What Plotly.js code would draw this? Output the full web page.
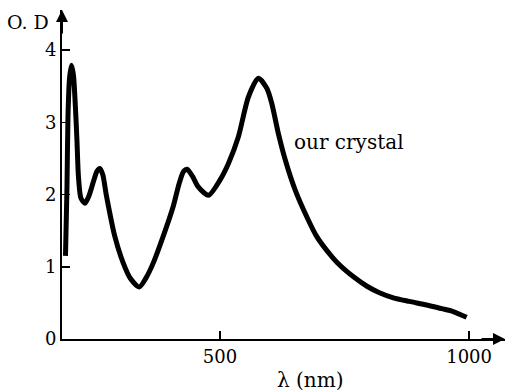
<!DOCTYPE html>
<html>
<head>
<meta charset="utf-8">
<script src="https://cdn.plot.ly/plotly-3.0.1.min.js"></script>
<style>html,body{margin:0;padding:0;background:#fff;}</style>
</head>
<body>
<div id="chart" style="width:514px;height:392px;"></div>
<script>
// Wavelength (nm) and optical density
var wavelength = [190, 193, 195, 198, 202, 206, 210, 213, 216, 221, 229, 237, 247, 253, 259, 265, 272, 289, 306, 320, 338, 352, 366, 386, 406, 418, 427, 434, 445, 456, 477, 500, 517, 537, 557, 577, 594, 604, 617, 631, 651, 677, 694, 715, 735, 770, 795, 820, 848, 880, 915, 945, 968, 995];
var opticalDensity = [1.15, 2.1, 3.08, 3.6, 3.79, 3.65, 3.2, 2.75, 2.25, 1.95, 1.88, 1.98, 2.2, 2.32, 2.36, 2.27, 1.99, 1.42, 1.05, 0.84, 0.72, 0.85, 1.05, 1.42, 1.83, 2.15, 2.32, 2.35, 2.25, 2.11, 1.99, 2.2, 2.43, 2.8, 3.35, 3.61, 3.47, 3.26, 2.85, 2.48, 2.06, 1.65, 1.42, 1.22, 1.06, 0.85, 0.73, 0.64, 0.57, 0.52, 0.47, 0.42, 0.38, 0.30];
var xTickVals = [500, 1000];
var xTickText = ["500", "1000"];
var yTickVals = [0, 1, 2, 3, 4];
var yTickText = ["0", "1", "2", "3", "4"];
var seriesLabel = "our crystal";
var yTitle = "O. D";
var xTitle = "λ (nm)";

var font = "DejaVu Serif, Liberation Serif, serif";

var trace = {
  x: wavelength,
  y: opticalDensity,
  mode: "lines",
  line: {color: "#000", width: 5, shape: "spline", smoothing: 0.7},
  hoverinfo: "none",
  showlegend: false
};

var layout = {
  width: 514, height: 392,
  margin: {l: 62, r: 9, t: 10, b: 53},
  paper_bgcolor: "#fff", plot_bgcolor: "#fff",
  showlegend: false,
  xaxis: {
    range: [183, 1072],
    showgrid: false, zeroline: false,
    showline: true, linecolor: "#000", linewidth: 2,
    ticks: "inside", ticklen: 8, tickwidth: 1.5, tickcolor: "#000",
    tickvals: xTickVals, ticktext: xTickText,
    tickfont: {family: font, size: 18, color: "#000"}
  },
  yaxis: {
    range: [0, 4.554],
    showgrid: false, zeroline: false,
    showline: true, linecolor: "#000", linewidth: 2,
    ticks: "inside", ticklen: 8, tickwidth: 1.5, tickcolor: "#000",
    tickvals: yTickVals, ticktext: yTickText,
    tickfont: {family: font, size: 18, color: "#000"}
  },
  annotations: [
    {xref: "x", yref: "y", x: 645, y: 2.73, text: seriesLabel, showarrow: false,
     xanchor: "left", yanchor: "middle", font: {family: font, size: 20, color: "#000"}},
    {xref: "paper", yref: "paper", x: -0.128, y: 0.963, text: yTitle, showarrow: false,
     xanchor: "left", yanchor: "middle", font: {family: font, size: 19, color: "#000"}},
    {xref: "paper", yref: "paper", x: 0.56, y: -0.125, text: xTitle, showarrow: false,
     xanchor: "center", yanchor: "middle", font: {family: font, size: 20, color: "#000"}},
    {xref: "paper", yref: "paper", x: 1.0, y: 0, ax: -25, ay: 0, text: "", showarrow: true,
     arrowhead: 2, arrowsize: 1.2, arrowwidth: 2, arrowcolor: "#000"},
    {xref: "paper", yref: "paper", x: 0, y: 1.0, ax: 0, ay: 25, text: "", showarrow: true,
     arrowhead: 2, arrowsize: 1.2, arrowwidth: 2, arrowcolor: "#000"}
  ]
};

Plotly.newPlot("chart", [trace], layout, {staticPlot: true, displayModeBar: false});
</script>
</body>
</html>
